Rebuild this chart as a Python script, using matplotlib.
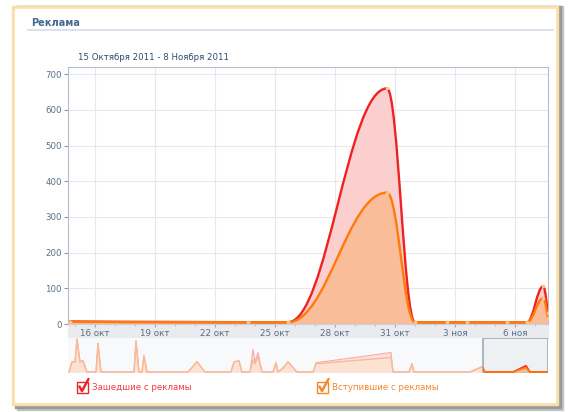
import matplotlib
matplotlib.use("Agg")
import matplotlib.pyplot as plt
from matplotlib.path import Path
from matplotlib.patches import PathPatch, Rectangle
from matplotlib.lines import Line2D

# -----------------------------
# Data (x = day counted from 1 October 2011, 1 Nov = 32)
# -----------------------------
days = [14.75, 23.65, 25.65, 30.6, 32.0, 33.6, 34.6, 36.6, 37.6, 38.42, 38.64]
visited = [7, 5, 5, 660, 5, 5, 5, 5, 5, 106, 30]
joined = [6, 5, 5, 368, 5, 5, 5, 5, 5, 73, 18]

tick_days = [16, 19, 22, 25, 28, 31, 34, 37]
tick_labels = ["16 окт", "19 окт", "22 окт", "25 окт", "28 окт", "31 окт", "3 ноя", "6 ноя"]
y_ticks = [0, 100, 200, 300, 400, 500, 600, 700]

# navigator (overview) series, relative height in %
nav_days = [14.7, 14.85, 15.0, 15.1, 15.25, 15.4, 15.6,
            16.05, 16.15, 16.3, 17.95, 18.05, 18.2, 18.35, 18.45, 18.6,
            20.65, 21.1, 21.5, 22.8, 22.95, 23.2, 23.35,
            23.75, 23.9, 24.0, 24.15, 24.35,
            24.9, 25.05, 25.15, 25.4, 25.65, 26.1,
            26.9, 27.05, 30.8, 30.9, 31.7, 31.85, 31.95,
            34.75, 35.35, 35.5, 36.9, 37.55, 37.75, 38.65]
nav_visited = [0, 31, 31, 100, 31, 34, 0, 0, 87, 0, 0, 94, 0, 0, 50, 0,
               0, 31, 0, 0, 31, 34, 0, 0, 69, 31, 59, 0,
               0, 28, 0, 12, 31, 0, 0, 28, 59, 0, 0, 25, 0,
               0, 16, 0, 0, 19, 0, 0]
nav_joined = [0, 31, 31, 100, 31, 34, 0, 0, 87, 0, 0, 94, 0, 0, 50, 0,
              0, 31, 0, 0, 31, 34, 0, 0, 37, 25, 47, 0,
              0, 28, 0, 12, 31, 0, 0, 25, 44, 0, 0, 25, 0,
              0, 16, 0, 0, 14, 0, 0]
nav_window = (35.4, 38.65)

RED = "#EE2222"
ORANGE = "#FF7A0A"
TEXT_BLUE = "#45688E"
LABEL = "#5A6E86"

W, H = 572, 412


def fx(px):
    return px / W


def fy(py):
    return 1 - py / H


def spline(xs, ys, smoothing=1.5):
    # highcharts-like spline through the points
    n = len(xs)
    lc, rc = [], []
    for i in range(n):
        x, y = xs[i], ys[i]
        if 0 < i < n - 1:
            px_, py_ = xs[i - 1], ys[i - 1]
            nx_, ny_ = xs[i + 1], ys[i + 1]
            d = smoothing + 1
            lcx, lcy = (smoothing * x + px_) / d, (smoothing * y + py_) / d
            rcx, rcy = (smoothing * x + nx_) / d, (smoothing * y + ny_) / d
            if rcx != lcx:
                corr = (rcy - lcy) * (rcx - x) / (rcx - lcx) + y - rcy
                lcy += corr
                rcy += corr
            if lcy > py_ and lcy > y:
                lcy = max(py_, y)
                rcy = 2 * y - lcy
            elif lcy < py_ and lcy < y:
                lcy = min(py_, y)
                rcy = 2 * y - lcy
            if rcy > ny_ and rcy > y:
                rcy = max(ny_, y)
                lcy = 2 * y - rcy
            elif rcy < ny_ and rcy < y:
                rcy = min(ny_, y)
                lcy = 2 * y - rcy
            lc.append((lcx, lcy))
            rc.append((rcx, rcy))
        else:
            lc.append((x, y))
            rc.append((x, y))
    verts = [(xs[0], ys[0])]
    codes = [Path.MOVETO]
    for i in range(1, n):
        verts += [rc[i - 1], lc[i], (xs[i], ys[i])]
        codes += [Path.CURVE4] * 3
    return verts, codes


fig = plt.figure(figsize=(W / 100, H / 100), dpi=100)
fig.patch.set_facecolor("white")

# card frame with shadow
fig.add_artist(Rectangle((fx(17), fy(410)), fx(546), 404 / H, color="#C4C4C4", zorder=-6))
fig.add_artist(Rectangle((fx(15), fy(408)), fx(546), 402 / H, color="#9A9A9A", zorder=-5))
fig.add_artist(Rectangle((fx(12), fy(405)), fx(546), 399 / H, color="#F9DFAA", zorder=-4))
fig.add_artist(Rectangle((fx(15), fy(402)), fx(540), 393 / H, color="white", zorder=-3))

fig.text(fx(31), fy(23), "Реклама", fontsize=7, fontweight="bold", color=TEXT_BLUE, va="center")
fig.add_artist(Line2D([fx(28), fx(553)], [fy(30), fy(30)], color="#DCE2E9", lw=1.4))
fig.text(fx(78), fy(58), "15 Октября 2011 - 8 Ноября 2011", fontsize=6.2, color="#2E4D70", va="center")

# x-axis band
fig.add_artist(Rectangle((fx(68), fy(338)), fx(480), 14 / H, color="#E9EBEE", zorder=-2))

# -----------------------------
# Main chart
# -----------------------------
ax = fig.add_axes([fx(68), fy(324), fx(480), 257 / H])
ax.set_xlim(14.65, 38.65)
ax.set_ylim(0, 720)

for vals, fillc in [(visited, "#FCCFCF"), (joined, "#F9BD9A")]:
    v, c = spline(days, vals)
    v = v + [(days[-1], 0), (days[0], 0), (days[0], vals[0])]
    c = c + [Path.LINETO, Path.LINETO, Path.CLOSEPOLY]
    ax.add_patch(PathPatch(Path(v, c), facecolor=fillc, edgecolor="none", zorder=2))

for vals, col in [(visited, RED), (joined, ORANGE)]:
    v, c = spline(days, vals)
    ax.add_patch(PathPatch(Path(v, c), facecolor="none", edgecolor=col, lw=1.7,
                           capstyle="round", zorder=3))
    ax.plot(days, vals, "o", ms=2.6, color="#FFC48E", mec="none", zorder=4)

ax.set_yticks(y_ticks)
ax.set_xticks(tick_days)
ax.set_xticklabels(tick_labels)
ax.set_xticks([d for d in range(15, 39) if d not in tick_days], minor=True)
ax.grid(True, color="#E6E9EC", lw=0.8, zorder=0)
ax.tick_params(axis="y", length=3, width=0.8, color="#8A9AAB", labelsize=6.2,
               labelcolor=LABEL, pad=1.5)
ax.tick_params(axis="x", which="major", length=2.5, width=0.8, color="#9AA8B6",
               labelsize=6.3, labelcolor=LABEL, pad=1.2)
ax.tick_params(axis="x", which="minor", length=1.5, width=0.6, color="#AEB8C3")
for s in ["left", "top", "right"]:
    ax.spines[s].set_color("#B3BECA")
    ax.spines[s].set_linewidth(0.8)
ax.spines["bottom"].set_color("#C9D0D8")
ax.spines["bottom"].set_linewidth(0.8)

# -----------------------------
# Navigator
# -----------------------------
nav = fig.add_axes([fx(68), fy(373), fx(480), 35 / H])
nav.set_xlim(14.65, 38.65)
nav.set_ylim(-3, 103)
nav.axis("off")
nav.add_patch(Rectangle((14.65, -3), 24, 106, color="#F8F9FA", zorder=0))

nav.fill_between(nav_days, nav_visited, color="#FDE0DE", lw=0, zorder=1)
nav.fill_between(nav_days, nav_joined, color="#FCE2D2", lw=0, zorder=1)
nav.plot(nav_days, nav_visited, color="#F7ABA8", lw=0.8, zorder=2)
nav.plot(nav_days, nav_joined, color="#F9BA97", lw=1.0, zorder=2)

win = Rectangle((nav_window[0], -3), nav_window[1] - nav_window[0], 106,
                facecolor="#EEF1F4", edgecolor="#9DAAB8", lw=1.2, zorder=3)
nav.add_patch(win)
clip = Rectangle((nav_window[0], -3), nav_window[1] - nav_window[0], 106,
                 transform=nav.transData)
for art in (nav.fill_between(nav_days, nav_visited, color="#F9C6B8", lw=0, zorder=4),
            nav.fill_between(nav_days, nav_joined, color="#F9B894", lw=0, zorder=4)):
    art.set_clip_path(clip)
for vals, col in [(nav_visited, RED), (nav_joined, ORANGE)]:
    ln, = nav.plot(nav_days, vals, color=col, lw=1.2, zorder=5)
    ln.set_clip_path(clip)

# -----------------------------
# Legend with check boxes
# -----------------------------
for x0, col, txtcol, label in [(77, "#E8262C", "#EE3B3B", "Зашедшие с рекламы"),
                               (317, "#F28A2E", "#F5862C", "Вступившие с рекламы")]:
    fig.add_artist(Rectangle((fx(x0), fy(393)), fx(11), 11 / H, facecolor="white",
                             edgecolor=col, lw=1.0))
    fig.add_artist(Line2D([fx(x0 + 2.5), fx(x0 + 5), fx(x0 + 11.5)],
                          [fy(386.5), fy(391), fy(379)], color=col, lw=1.8,
                          solid_capstyle="round", solid_joinstyle="round"))
    fig.text(fx(x0 + 15), fy(388), label, fontsize=6.2, color=txtcol, va="center")

plt.savefig("out.png", dpi=100)
